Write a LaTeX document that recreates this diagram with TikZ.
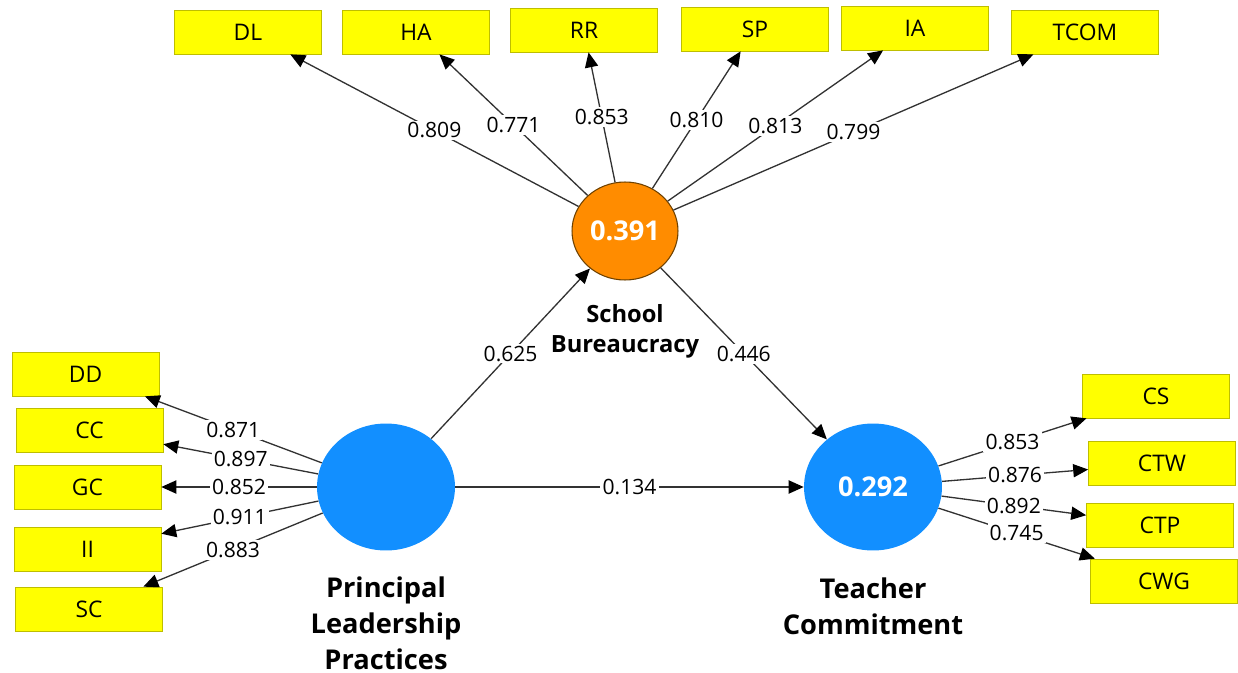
\documentclass[tikz,border=0pt]{standalone}
\usepackage{fontspec}
\setmainfont{Open Sans}
\usetikzlibrary{shapes.geometric,arrows.meta}
\definecolor{indyellow}{RGB}{255,255,0}
\definecolor{indborder}{RGB}{190,190,0}
\definecolor{lvblue}{RGB}{18,143,255}
\definecolor{lvorange}{RGB}{255,140,0}
\definecolor{lvedge}{RGB}{110,65,0}
\definecolor{pathgray}{RGB}{50,50,50}
\begin{document}
\begin{tikzpicture}[x=0.02cm,y=-0.02cm]
\tikzstyle{every node}+=[inner sep=0pt]
\tikzstyle{ind}=[draw=indborder,fill=indyellow,minimum width=2.94cm,minimum height=0.88cm,font=\fontsize{13}{15}\selectfont]
\tikzstyle{lv}=[ellipse,fill=lvblue,minimum width=2.76cm,minimum height=2.54cm,text=white,font=\bfseries\fontsize{15.5}{18}\selectfont]
\tikzstyle{lvmed}=[ellipse,draw=lvedge,line width=0.6pt,fill=lvorange,minimum width=2.12cm,minimum height=1.96cm,text=white,font=\bfseries\fontsize{15.5}{18}\selectfont]
\tikzstyle{load}=[draw=pathgray,line width=0.75pt,-{Triangle[length=8.5pt,width=7.5pt,color=black]}]
\tikzstyle{coef}=[midway,fill=white,inner sep=1.2pt,font=\fontsize{12}{14}\selectfont]
\tikzstyle{lvname}=[align=center,font=\bfseries\fontsize{15.5}{20.4}\selectfont]
\useasboundingbox (0,0) rectangle (1238,673);
\node [ind] (dl) at (248,32) {DL};
\node [ind] (ha) at (416,32) {HA};
\node [ind] (rr) at (584,30) {RR};
\node [ind] (sp) at (755,29) {SP};
\node [ind] (ia) at (915,28) {IA};
\node [ind] (tcom) at (1085,32) {TCOM};
\node [ind] (dd) at (85.5,374) {DD};
\node [ind] (cc) at (89.5,430) {CC};
\node [ind] (gc) at (87.5,487) {GC};
\node [ind] (ii) at (87.5,549) {II};
\node [ind] (sc) at (89,609) {SC};
\node [ind] (cs) at (1156,396) {CS};
\node [ind] (ctw) at (1162,463.5) {CTW};
\node [ind] (ctp) at (1160,525) {CTP};
\node [ind] (cwg) at (1164,581) {CWG};
\node [lvmed] (sb) at (625,231) {0.391};
\node [lv] (plp) at (386,487) {};
\node [lv] (tc) at (873,487) {0.292};
\node [lvname,font=\bfseries\fontsize{13.5}{17}\selectfont] (sbname) at (625,331) {School\\Bureaucracy};
\node [lvname] (plpname) at (386,623) {Principal\\Leadership\\Practices};
\node [lvname] (tcname) at (873,606) {Teacher\\Commitment};
\draw [load] (sb) -- (dl) node [coef] {0.809};
\draw [load] (sb) -- (ha) node [coef] {0.771};
\draw [load] (sb) -- (rr) node [coef] {0.853};
\draw [load] (sb) -- (sp) node [coef] {0.810};
\draw [load] (sb) -- (ia) node [coef] {0.813};
\draw [load] (sb) -- (tcom) node [coef] {0.799};
\draw [load] (plp) -- (dd) node [coef] {0.871};
\draw [load] (plp) -- (cc) node [coef] {0.897};
\draw [load] (plp) -- (gc) node [coef] {0.852};
\draw [load] (plp) -- (ii) node [coef] {0.911};
\draw [load] (plp) -- (sc) node [coef] {0.883};
\draw [load] (tc) -- (cs) node [coef] {0.853};
\draw [load] (tc) -- (ctw) node [coef] {0.876};
\draw [load] (tc) -- (ctp) node [coef] {0.892};
\draw [load] (tc) -- (cwg) node [coef] {0.745};
\draw [load] (plp) -- (sb) node [coef] {0.625};
\draw [load] (sb) -- (tc) node [coef] {0.446};
\draw [load] (plp) -- (tc) node [coef] {0.134};
\end{tikzpicture}
\end{document}
